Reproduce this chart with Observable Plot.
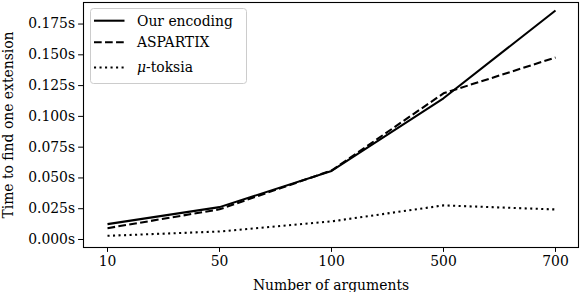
<!DOCTYPE html>
<html>
<head>
<meta charset="utf-8">
<script src="https://cdn.jsdelivr.net/npm/d3@7"></script>
<script src="https://cdn.jsdelivr.net/npm/@observablehq/plot@0.6"></script>
<style>
  html, body { margin: 0; padding: 0; background: #fff; }
  #wrap { position: relative; width: 580px; height: 292px; font-family: 'DejaVu Serif', 'Liberation Serif', serif; }
  #wrap svg, #wrap text { font-family: 'DejaVu Serif', 'Liberation Serif', serif !important; }
  #legend { position: absolute; left: 90px; top: 8px; }
</style>
</head>
<body>
<div id="wrap"></div>
<script>
const args = ["10", "50", "100", "500", "700"];
const ours = [0.0125, 0.0263, 0.0557, 0.1147, 0.1860];
const aspartix = [0.0092, 0.0245, 0.0560, 0.1187, 0.1478];
const toksia = [0.0030, 0.0065, 0.0147, 0.0277, 0.0244];
const yTicks = [0, 0.025, 0.05, 0.075, 0.1, 0.125, 0.15, 0.175];
const seriesNames = ["Our encoding", "ASPARTIX", "μ-toksia"];

const toRows = (vals) => args.map((a, i) => ({x: a, y: vals[i]}));

const FONT = "'DejaVu Serif', 'Liberation Serif', serif";
const lw = 2.08;
const styles = [
  {dash: null},
  {dash: `${3.7*lw},${1.6*lw}`},
  {dash: `${1*lw},${1.65*lw}`}
];
const seriesVals = [ours, aspartix, toksia];

const chart = Plot.plot({
  width: 580,
  height: 292,
  marginLeft: 83,
  marginRight: 2,
  marginTop: 2,
  marginBottom: 45,
  style: {fontFamily: FONT, fontSize: "13.9px", color: "#000", background: "#fff"},
  x: {type: "point", domain: args, padding: 0.2},
  y: {domain: [-0.0065, 0.1925]},
  marks: [
    ...seriesVals.map((vals, i) => Plot.line(toRows(vals), {
      x: "x", y: "y", curve: "linear",
      stroke: "#000", strokeWidth: lw,
      strokeDasharray: styles[i].dash, strokeLinecap: "butt"
    })),
    Plot.frame({stroke: "#000", strokeWidth: 1.1}),
    Plot.axisY({ticks: yTicks, tickFormat: d => d.toFixed(3) + "s", tickSize: 4.9, tickPadding: 3.5,
      label: "Time to find one extension", labelAnchor: "center", labelArrow: "none", labelOffset: 80}),
    Plot.axisX({tickSize: 4.9, tickPadding: 3.5, label: "Number of arguments", labelAnchor: "center", labelArrow: "none", labelOffset: 42})
  ]
});
document.getElementById("wrap").appendChild(chart);

// legend overlay
const ns = "http://www.w3.org/2000/svg";
const lg = document.createElementNS(ns, "svg");
lg.setAttribute("id", "legend");
lg.setAttribute("width", 158);
lg.setAttribute("height", 77);
const box = document.createElementNS(ns, "rect");
box.setAttribute("x", 0.5); box.setAttribute("y", 0.5);
box.setAttribute("width", 156); box.setAttribute("height", 75);
box.setAttribute("rx", 3);
box.setAttribute("fill", "rgba(255,255,255,0.8)");
box.setAttribute("stroke", "#cccccc");
box.setAttribute("stroke-width", 1);
lg.appendChild(box);
const rowY = [12.7, 34.3, 59.5];
seriesNames.forEach((name, i) => {
  const l = document.createElementNS(ns, "line");
  l.setAttribute("x1", 4); l.setAttribute("x2", 34.5);
  l.setAttribute("y1", rowY[i]); l.setAttribute("y2", rowY[i]);
  l.setAttribute("stroke", "#000"); l.setAttribute("stroke-width", lw);
  if (styles[i].dash) l.setAttribute("stroke-dasharray", styles[i].dash);
  lg.appendChild(l);
  const t = document.createElementNS(ns, "text");
  t.setAttribute("x", 47); t.setAttribute("y", rowY[i]);
  t.setAttribute("dy", "0.35em");
  t.setAttribute("font-family", FONT);
  t.setAttribute("font-size", "13.9px");
  if (name.startsWith("μ")) {
    const s1 = document.createElementNS(ns, "tspan");
    s1.setAttribute("font-style", "italic");
    s1.textContent = "μ";
    const s2 = document.createElementNS(ns, "tspan");
    s2.textContent = name.slice(1);
    t.appendChild(s1); t.appendChild(s2);
  } else {
    t.textContent = name;
  }
  lg.appendChild(t);
});
document.getElementById("wrap").appendChild(lg);
</script>
</body>
</html>
